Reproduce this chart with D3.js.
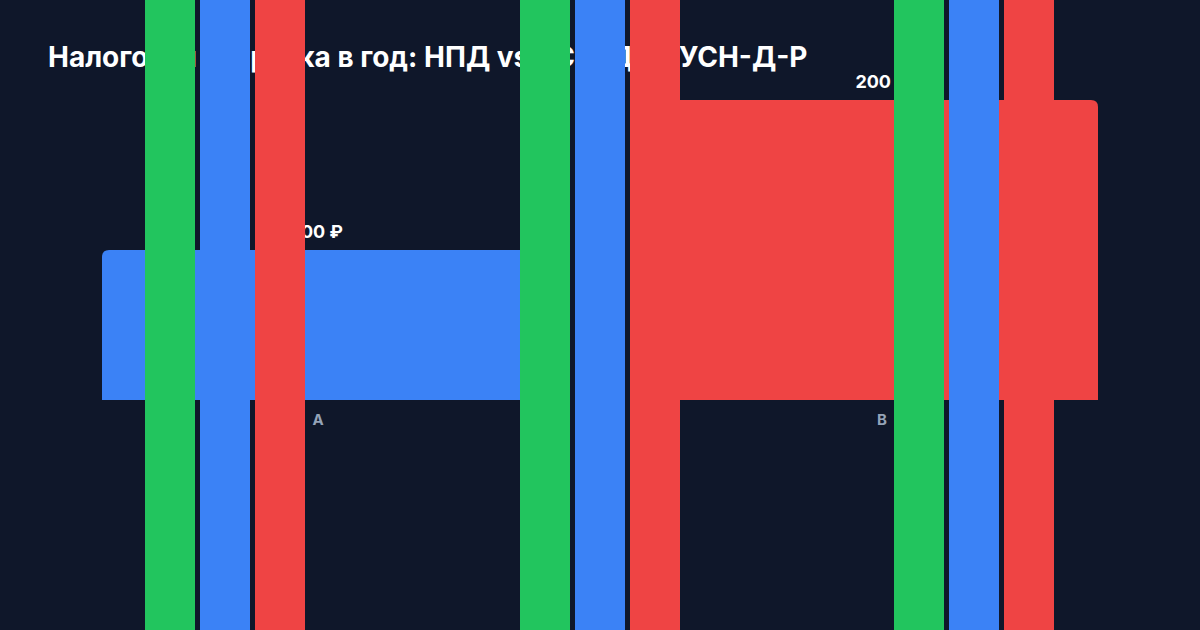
<!DOCTYPE html>
<html>
<head>
<meta charset="utf-8">
<script src="https://cdn.jsdelivr.net/npm/d3@7"></script>
<style>
  html, body { margin: 0; padding: 0; background: #0f172a; }
  svg { display: block; }
</style>
</head>
<body>
<svg id="chart" width="1200" height="630"></svg>
<script>
// data
var categories = ["A", "B"];
var values = [100, 200];
var barColors = ["#3b82f6", "#ef4444"];

var stripGroups = ["g1", "g2", "g3"];
var series = ["НПД", "УСН-Д", "УСН-Д-Р"];
var seriesColors = ["#22c55e", "#3b82f6", "#ef4444"];

var title = "Налоговая нагрузка в год: НПД vs УСН-Д vs УСН-Д-Р";

var width = 1200, height = 630;
var svg = d3.select("#chart");

svg.append("rect")
    .attr("width", width)
    .attr("height", height)
    .attr("fill", "#0f172a");

// title
svg.append("text")
    .attr("x", 48)
    .attr("y", 67)
    .attr("fill", "#ffffff")
    .attr("font-family", "Inter, 'Noto Sans', sans-serif")
    .attr("font-weight", 700)
    .attr("font-size", 28)
    .text(title);

var x = d3.scaleBand()
    .domain(categories)
    .range([102, 1098])
    .paddingInner(0.234)
    .paddingOuter(0);

var y = d3.scaleLinear()
    .domain([0, d3.max(values)])
    .range([400, 100]);

// bar with rounded top corners only
function topRounded(x0, y0, w, h, r)
{
    r = Math.min(r, w / 2, h);
    return "M" + x0 + "," + (y0 + h)
        + "V" + (y0 + r)
        + "Q" + x0 + "," + y0 + " " + (x0 + r) + "," + y0
        + "H" + (x0 + w - r)
        + "Q" + (x0 + w) + "," + y0 + " " + (x0 + w) + "," + (y0 + r)
        + "V" + (y0 + h) + "Z";
}

var rows = categories.map(function(c, i) {
    return { cat: c, value: values[i], color: barColors[i] };
});

svg.selectAll("path.bar")
    .data(rows)
    .enter().append("path")
    .attr("class", "bar")
    .attr("fill", function(d) { return d.color; })
    .attr("d", function(d) {
        return topRounded(x(d.cat), y(d.value), x.bandwidth(), y(0) - y(d.value), 7);
    });

var fmt = function(v) { return d3.format(",")(v).replace(/,/g, " ") + " ₽"; };

svg.selectAll("text.value")
    .data(rows)
    .enter().append("text")
    .attr("class", "value")
    .attr("x", function(d) { return x(d.cat) + x.bandwidth() / 2; })
    .attr("y", function(d) { return y(d.value) - 12; })
    .attr("text-anchor", "middle")
    .attr("fill", "#ffffff")
    .attr("font-family", "Inter, 'Noto Sans', sans-serif")
    .attr("font-weight", 700)
    .attr("font-size", 18)
    .text(function(d) { return fmt(d.value); });

svg.selectAll("text.cat")
    .data(rows)
    .enter().append("text")
    .attr("class", "cat")
    .attr("x", function(d) { return x(d.cat) + x.bandwidth() / 2; })
    .attr("y", 425)
    .attr("text-anchor", "middle")
    .attr("fill", "#94a3b8")
    .attr("font-family", "Inter, 'Noto Sans', sans-serif")
    .attr("font-weight", 700)
    .attr("font-size", 15)
    .text(function(d) { return d.cat; });

// full-height series strips, drawn on top
var gx = d3.scalePoint()
    .domain(stripGroups)
    .range([102, 1098])
    .padding(0.33);

var sx = d3.scaleBand()
    .domain(series)
    .range([-80, 80])
    .paddingInner(0.0909);

var color = d3.scaleOrdinal().domain(series).range(seriesColors);

var groups = svg.selectAll("g.strips")
    .data(stripGroups)
    .enter().append("g")
    .attr("class", "strips")
    .attr("transform", function(d) { return "translate(" + Math.round(gx(d) - 0.5) + ",0)"; });

groups.selectAll("rect")
    .data(series)
    .enter().append("rect")
    .attr("x", function(d) { return sx(d); })
    .attr("y", 0)
    .attr("width", sx.bandwidth())
    .attr("height", height)
    .attr("fill", function(d) { return color(d); });
</script>
</body>
</html>
